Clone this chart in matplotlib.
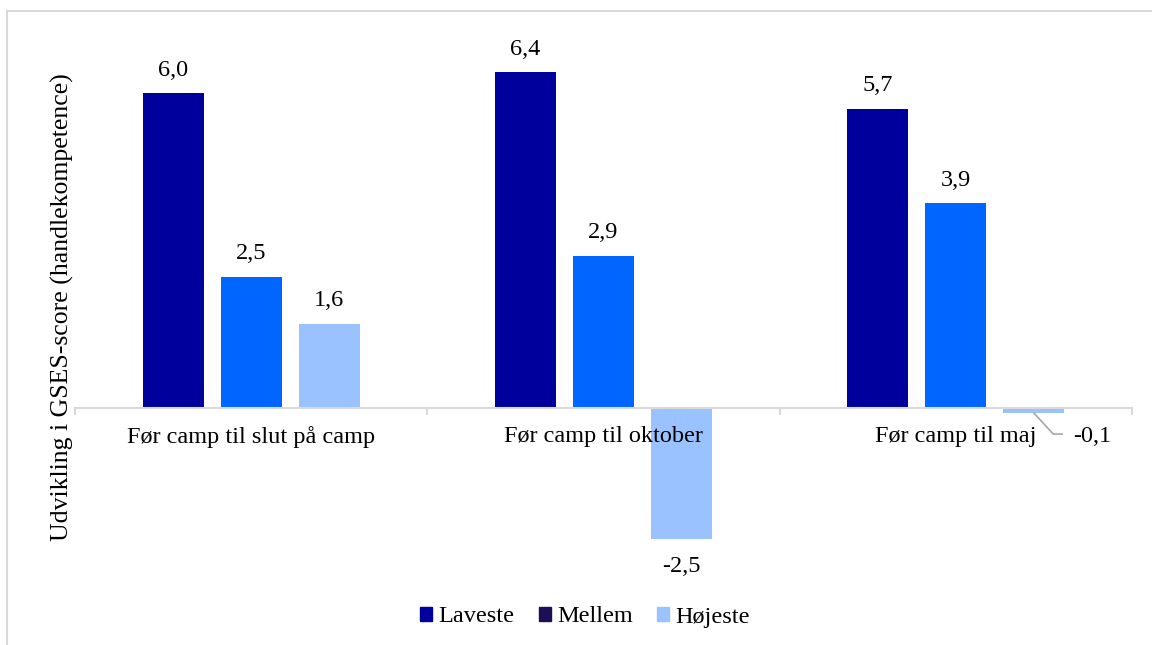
import matplotlib.pyplot as plt
import numpy as np
from matplotlib.lines import Line2D
from matplotlib.patches import Patch

plt.rcParams["font.family"] = "Liberation Serif"

kategorier = ['Før camp til slut på camp', 'Før camp til oktober', 'Før camp til maj']
grupper = ['Laveste', 'Mellem', 'Højeste']
laveste = [6.0, 6.4, 5.7]
mellem = [2.5, 2.9, 3.9]
hojeste = [1.6, -2.5, -0.1]

farver = ['#00009C', '#0066FF', '#99C2FF']
legend_farver = ['#00009C', '#1E0D57', '#99C2FF']

W, H = 1152, 645
fig = plt.figure(figsize=(W / 100, H / 100), dpi=100)
# plot area in pixels: x 75..1132, y 30..581
ax = fig.add_axes([75 / W, 1 - 581 / H, (1132 - 75) / W, (581 - 30) / H])

x = np.arange(len(kategorier))
bredde = 61 / 352
step = 78 / 352
fs = 17.5
for i, (vals, c) in enumerate(zip([laveste, mellem, hojeste], farver)):
    pos = x + (i - 1) * step
    ax.bar(pos, vals, width=bredde, color=c, zorder=1)
    for px, v in zip(pos, vals):
        lab = f'{v:.1f}'.replace('.', ',')
        if v < 0 and abs(v) < 0.5:
            # lille negativ vaerdi: label med leader line
            ly = v - 0.4
            ax.plot([px, px + 0.055, px + 0.08], [v, ly, ly], color='#A6A6A6', lw=1.2,
                    clip_on=False, zorder=3)
            ax.text(px + 0.11, ly - 0.05, lab, ha='left', va='center', fontsize=fs)
        elif v >= 0:
            ax.annotate(lab, (px, v), xytext=(0, 16.5), textcoords='offset points',
                        ha='center', va='center', fontsize=fs)
        else:
            ax.annotate(lab, (px, v), xytext=(0, -20), textcoords='offset points',
                        ha='center', va='center', fontsize=fs)

ax.set_xlim(-0.5, 2.5)
ax.set_ylim(-3.3, 7.2)
for s in ['top', 'right', 'left']:
    ax.spines[s].set_visible(False)
ax.spines['bottom'].set_position(('data', 0))
ax.spines['bottom'].set_color('#D9D9D9')
ax.spines['bottom'].set_linewidth(1.5)
ax.set_yticks([])
ax.set_xticks([-0.5, 0.5, 1.5, 2.5])
ax.set_xticklabels([])
ax.tick_params(axis='x', which='major', direction='out', length=5, width=1.5, color='#D9D9D9')
ax.set_xticks(x, kategorier, minor=True)
ax.tick_params(axis='x', which='minor', length=0, pad=13, labelsize=fs)
ax.xaxis.set_zorder(5)

fig.text(62 / W, 1 - 307 / H, 'Udvikling i GSES-score (handlekompetence)',
         rotation=90, ha='center', va='center', fontsize=18.5)

handles = [Patch(color=c, label=g) for g, c in zip(grupper, legend_farver)]
fig.legend(handles=handles, loc='center', bbox_to_anchor=(585 / W, 1 - 617 / H),
           ncol=3, frameon=False, fontsize=fs, handlelength=0.5, handleheight=0.5,
           handletextpad=0.25, columnspacing=1.0)

# ramme
fig.add_artist(Line2D([7 / W, 1], [1 - 11 / H, 1 - 11 / H], color='#D9D9D9', lw=1.5))
fig.add_artist(Line2D([7 / W, 7 / W], [0, 1 - 11 / H], color='#D9D9D9', lw=1.5))

fig.savefig('out.png', dpi=100)
